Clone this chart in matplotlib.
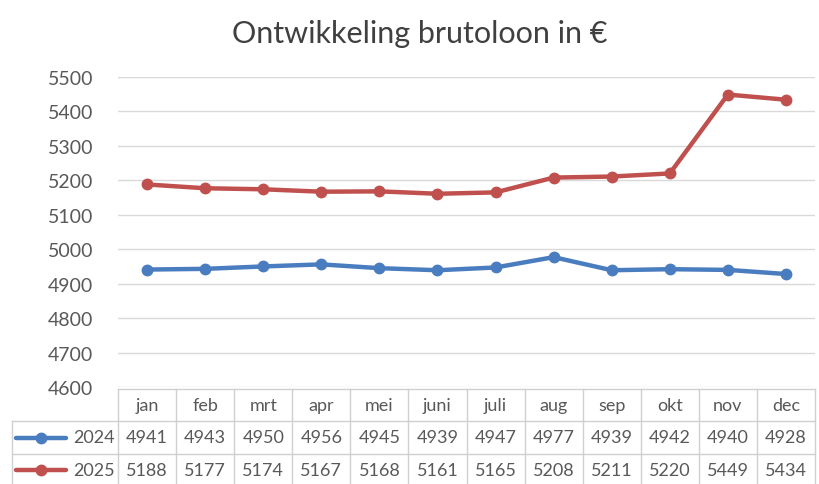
import numpy as np
import matplotlib.pyplot as plt
from matplotlib.lines import Line2D

months = ['jan', 'feb', 'mrt', 'apr', 'mei', 'juni', 'juli', 'aug', 'sep', 'okt', 'nov', 'dec']
loon_2024 = [4941, 4943, 4950, 4956, 4945, 4939, 4947, 4977, 4939, 4942, 4940, 4928]
loon_2025 = [5188, 5177, 5174, 5167, 5168, 5161, 5165, 5208, 5211, 5220, 5449, 5434]
series = [('2024', loon_2024, '#4a7dc0'), ('2025', loon_2025, '#c0504d')]

plt.rcParams['font.family'] = ['Lato', 'DejaVu Sans']
text_color = '#595959'
grid_color = '#d9d9d9'

fig = plt.figure(figsize=(8.19, 4.85), dpi=100)
ax = fig.add_axes([118 / 819, 1 - 388 / 485, (815 - 118) / 819, (388 - 78) / 485])

x = np.arange(len(months))
for label, vals, color in series:
    ax.plot(x, vals, color=color, linewidth=3.2, marker='o', markersize=7.5, label=label,
            solid_capstyle='round')

ax.set_xlim(-0.5, len(months) - 0.5)
ax.set_ylim(4600, 5500)
ax.set_yticks(np.arange(4600, 5501, 100))
ax.yaxis.grid(True, color=grid_color, linewidth=1)
ax.set_axisbelow(True)
ax.set_xticks([])
for s in ax.spines.values():
    s.set_visible(False)
ax.tick_params(axis='y', length=0, labelsize=14, colors=text_color, pad=18)

fig.text(0.513, 1 - 34 / 485, 'Ontwikkeling brutoloon in €', ha='center', va='center',
         fontsize=22, color='#404040')

# data table under the plot, in figure pixels
def fy(py):
    return 1 - py / 485

def fx(px):
    return px / 819

col_w = (815 - 118) / len(months)
row_tops = [390, 422, 455, 487]
lc = '#d0d0d0'
# horizontal lines
fig.add_artist(Line2D([fx(118), fx(815)], [fy(390), fy(390)], color=lc, lw=1))
for py in row_tops[1:3]:
    fig.add_artist(Line2D([fx(12), fx(815)], [fy(py), fy(py)], color=lc, lw=1))
# vertical lines
fig.add_artist(Line2D([fx(12), fx(12)], [fy(422), fy(485)], color=lc, lw=1))
for i in range(len(months) + 1):
    px = 118 + i * col_w
    fig.add_artist(Line2D([fx(px), fx(px)], [fy(390), fy(485)], color=lc, lw=1))

for i, m in enumerate(months):
    cx = 118 + (i + 0.5) * col_w
    fig.text(fx(cx), fy(406), m, ha='center', va='center', fontsize=13, color=text_color)
    for r, (label, vals, color) in enumerate(series):
        cy = (row_tops[r + 1] + row_tops[r + 2]) / 2
        fig.text(fx(cx), fy(cy), str(vals[i]), ha='center', va='center', fontsize=13,
                 color=text_color)

for r, (label, vals, color) in enumerate(series):
    cy = (row_tops[r + 1] + row_tops[r + 2]) / 2
    fig.add_artist(Line2D([fx(16), fx(66)], [fy(cy), fy(cy)], color=color, lw=3.2,
                          solid_capstyle='round'))
    fig.add_artist(Line2D([fx(41)], [fy(cy)], color=color, marker='o', markersize=7.5))
    fig.text(fx(115), fy(cy), label, ha='right', va='center', fontsize=13, color=text_color)

fig.savefig('out.png', dpi=100)
